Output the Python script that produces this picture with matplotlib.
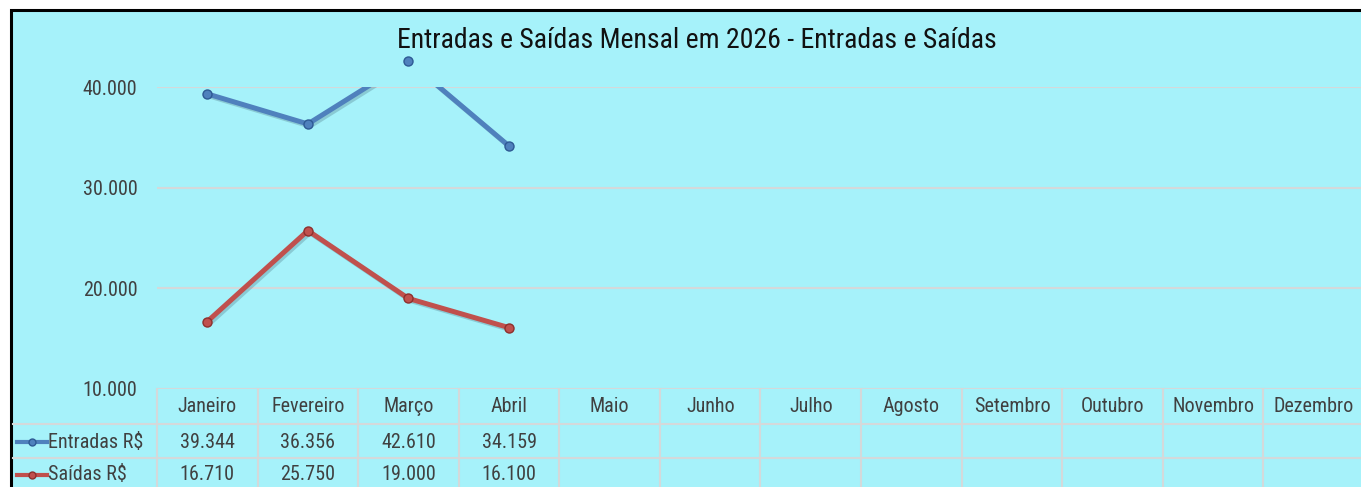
import matplotlib.pyplot as plt
import matplotlib.patheffects as pe
from matplotlib.patches import Rectangle
from matplotlib import font_manager

# data
meses = ['Janeiro', 'Fevereiro', 'Março', 'Abril', 'Maio', 'Junho', 'Julho',
         'Agosto', 'Setembro', 'Outubro', 'Novembro', 'Dezembro']
entradas = [39344, 36356, 42610, 34159]
saidas = [16710, 25750, 19000, 16100]
series_nomes = ['Entradas R$', 'Saídas R$']
y_ticks = [10000, 20000, 30000, 40000]
titulo = 'Entradas e Saídas Mensal em 2026 - Entradas e Saídas'

# pick a narrow font if one is installed
nomes = {f.name for f in font_manager.fontManager.ttflist}
fonte = 'DejaVu Sans'
for cand in ['Roboto Condensed', 'Liberation Sans Narrow', 'DejaVu Sans Condensed']:
    if cand in nomes:
        fonte = cand
        break
plt.rcParams['font.family'] = [fonte, 'DejaVu Sans']

W, H = 1361, 487
bg = '#A6F2FA'
grid_c = '#D4D9DA'
txt_c = '#404040'
fs = 14.5
cores = ['#4F81BD', '#C0504D']
bordas = ['#2E5A94', '#8E302D']


def fmt(v):
    return f'{v:,.0f}'.replace(',', '.')


fig = plt.figure(figsize=(W / 100, H / 100), dpi=100)
fig.patch.set_facecolor('white')

# chart area with black border (right/bottom edges fall outside the image)
fig.patches.append(Rectangle((11 / W, -0.1), 1.2, 1 - 10 / H + 0.1,
                             transform=fig.transFigure, facecolor=bg,
                             edgecolor='black', linewidth=2.2, zorder=-5))

ax = fig.add_axes([157 / W, (H - 389) / H, 1207 / W, (389 - 87.3) / H])
ax.set_facecolor('none')
ax.set_xlim(-0.5, 11.5)
ax.set_ylim(10000, 40000)
for s in ax.spines.values():
    s.set_visible(False)
ax.set_xticks([])
ax.set_yticks(y_ticks)
ax.set_yticklabels([fmt(v) for v in y_ticks], fontsize=fs, color=txt_c)
ax.tick_params(axis='y', length=0, pad=14)
for v in y_ticks:
    ax.axhline(v, color=grid_c, lw=1.5, zorder=1)

x = list(range(len(entradas)))
sombra = [pe.SimpleLineShadow(offset=(1.5, -1.5), alpha=0.25, shadow_color='#335566'), pe.Normal()]
for vals, c, b in zip([entradas, saidas], cores, bordas):
    ax.plot(x, vals, color=c, lw=3.6, zorder=3, solid_capstyle='round',
            path_effects=sombra)
    ax.plot(x, vals, ls='none', marker='o', ms=6.5, mfc=c, mec=b, mew=1,
            clip_on=False, zorder=4)

# data table
xt = ax.get_xaxis_transform()
px = 1207 / 12
row_lines = [-35 / 301.7, -69 / 301.7]
x_left = -0.5 - (157 - 13) / px
for yl in row_lines:
    ax.plot([x_left, 12.5], [yl, yl], transform=xt, color=grid_c, lw=1.5, clip_on=False)
for i in range(13):
    ax.plot([i - 0.5, i - 0.5], [0, -0.4], transform=xt, color=grid_c, lw=1.5, clip_on=False)

y_head, y_r1, y_r2 = -18 / 301.7, -53 / 301.7, -86 / 301.7
for i, m in enumerate(meses):
    ax.text(i, y_head, m, transform=xt, ha='center', va='center', fontsize=fs, color=txt_c)
for yr, vals in zip([y_r1, y_r2], [entradas, saidas]):
    for i, v in enumerate(vals):
        ax.text(i, yr, fmt(v), transform=xt, ha='center', va='center', fontsize=fs, color=txt_c)

# legend keys in the row headers
for yr, nome, c, b in zip([y_r1, y_r2], series_nomes, cores, bordas):
    k0 = -0.5 - (157 - 17) / px
    k1 = -0.5 - (157 - 47) / px
    ax.plot([k0, k1], [yr, yr], transform=xt, color=c, lw=3, clip_on=False)
    ax.plot([(k0 + k1) / 2], [yr], transform=xt, marker='o', ms=5, mfc=c, mec=b,
            clip_on=False)
    ax.text(-0.5 - (157 - 48) / px, yr, nome, transform=xt, ha='left', va='center',
            fontsize=fs, color=txt_c)

fig.text(697 / W, 1 - 40 / H, titulo, ha='center', va='center', fontsize=20, color='#111111')

fig.savefig('out.png', dpi=100, facecolor='white')
